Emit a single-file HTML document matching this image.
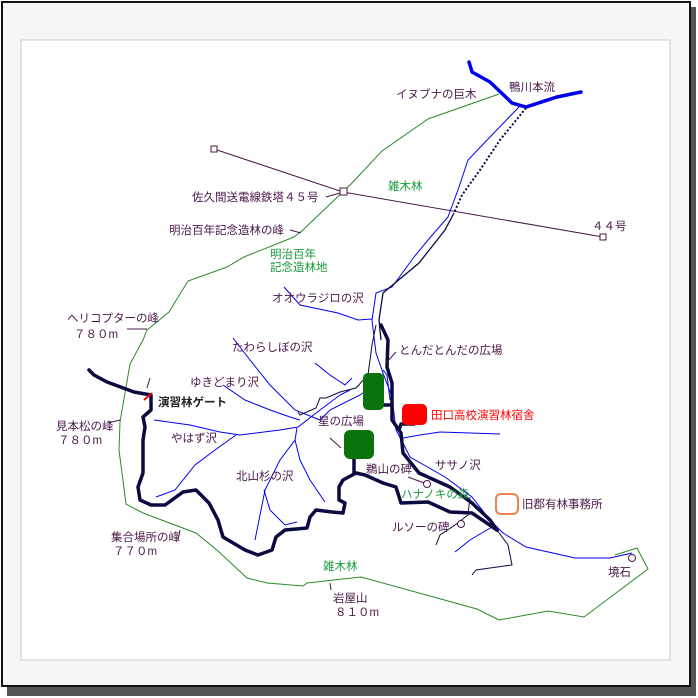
<!DOCTYPE html>
<html><head><meta charset="utf-8"><style>
html,body{margin:0;padding:0;background:#fff;}
svg{display:block;}
text{font-family:"Liberation Sans","Noto Sans CJK JP",sans-serif;font-size:11.5px;fill:#4a1848;}
.g{fill:#1a9a3a;}
</style></head><body>
<svg width="698" height="698" viewBox="0 0 698 698" xmlns="http://www.w3.org/2000/svg">
<rect x="0" y="0" width="698" height="698" fill="#fff"/>
<rect x="7" y="7" width="689" height="689" fill="#555"/>
<rect x="2" y="2" width="688" height="684" fill="#f6f6f6" stroke="#111" stroke-width="2"/>
<rect x="21" y="40" width="649" height="620" fill="#fff" stroke="#ccc" stroke-width="1"/>
<!-- green boundary -->
<polyline fill="none" stroke="#2a8a2a" stroke-width="1" points="499,94 428,119 382,151 352,183 303,230 294,237 244,257 227,267 188,281 169,312 147,330 143,340 130,364 120,422 119,450 126,504 143,513 196,533 218,551 247,578 267,583 303,586 307,583 361,577 477,609 499,620 548,611 584,617 648,569 637,548 615,555"/>
<!-- power line -->
<polyline fill="none" stroke="#4a1848" stroke-width="1" points="214,149 343,192 603,237"/>
<rect x="211" y="146" width="6" height="6" fill="#fff" stroke="#4a1848"/>
<rect x="340" y="188" width="7" height="7" fill="#fff" stroke="#4a1848"/>
<rect x="600" y="234" width="6" height="6" fill="#fff" stroke="#4a1848"/>
<!-- main river -->
<polyline fill="none" stroke="#0000ee" stroke-width="3.5" stroke-linecap="round" points="469,62 472,72 490,82 512,103 526,107 557,97 581,92"/>
<!-- thin blue river -->
<polyline fill="none" stroke="#0000ee" stroke-width="1" points="519,107 490,137 468,160 459,187 448,217 428,240 414,257 392,287 376,293 372,320 376,353 383,373 392,397 396,430 403,443 410,457 445,477 472,497 490,520 503,533 526,547 575,558 610,558 632,553"/>
<!-- tributaries -->
<g fill="none" stroke="#0000ee" stroke-width="1">
<polyline points="284,287 300,305 338,313 358,320 372,319"/>
<polyline points="233,338 250,360 270,385 295,410 320,420 330,410 360,395 375,385"/>
<polyline points="315,363 330,375 345,385 352,378"/>
<polyline points="223,385 245,400 270,410 290,417 300,420"/>
<polyline points="154,420 190,425 220,432 240,435 280,430 298,427 320,410 340,395 350,390"/>
<polyline points="236,435 215,450 195,465 175,490 156,497"/>
<polyline points="297,428 295,440 280,460 265,490 255,540"/>
<polyline points="295,440 300,460 310,480 325,502"/>
<polyline points="264,490 270,510 285,525 297,522"/>
<polyline points="403,438 420,435 440,432 470,433 500,434"/>
<polyline points="492,527 470,540 455,552"/>
<polyline points="383,370 387,375 390,400"/>
</g>
<!-- dashed -->
<polyline fill="none" stroke="#0a0a40" stroke-width="2" stroke-dasharray="2,2" points="526,108 500,140 480,170 462,195 454,213"/>
<polyline fill="none" stroke="#0a0a40" stroke-width="1.3" points="454,213 445,230 419,263 383,293 379,320 381,340"/>
<polyline fill="none" stroke="#0a0a40" stroke-width="1" points="376,325 372,345 368,375 356,388 340,392 326,398 320,398 316,408 300,415 298,412"/>
<polyline fill="none" stroke="#0a0a40" stroke-width="1" points="497,530 508,545 512,565 490,568 476,570 472,575"/>
<polyline fill="none" stroke="#0a0a40" stroke-width="1" points="470,497 468,515 455,525 440,535 436,545"/>
<!-- thick navy -->
<g fill="none" stroke="#0a0a40" stroke-width="3.5" stroke-linejoin="round" stroke-linecap="round">
<polyline points="381,325 388,340 387,367 392,383 392,400 392,420 401,433 403,453 419,473 450,487 472,503 490,520 497,530"/>
<polyline points="383,405 392,405"/>
<polyline points="399,430 401,424 414,424"/>
<polyline points="497,530 472,513 450,512 428,502 401,503 396,487 383,483 365,475 356,473 343,480 339,487 339,500 345,503 343,513 332,512 316,510 310,517 307,528 285,530 276,537 272,550 258,555 245,550 223,537 218,520 209,503 196,490 183,492 165,505 151,505 140,500 138,487 143,473 143,440 145,427 143,417 151,410 151,395 134,392 107,382 94,375 89,370"/>
<polyline points="354,458 354,473"/>
</g>
<!-- buildings -->
<rect x="363" y="373" width="21" height="37" rx="5" fill="#0b730b"/>
<rect x="344" y="430" width="30" height="29" rx="6" fill="#0b730b"/>
<rect x="402" y="404" width="25" height="21" rx="5" fill="#ff0000"/>
<rect x="496" y="494" width="22" height="20" rx="5" fill="#fff" stroke="#f08050" stroke-width="2"/>
<!-- gate mark -->
<line x1="144" y1="400" x2="152" y2="393" stroke="#e00" stroke-width="2"/>
<!-- small markers -->
<circle cx="427" cy="484" r="3.5" fill="#fff" stroke="#4a1848"/>
<circle cx="461" cy="524" r="3.5" fill="#fff" stroke="#4a1848"/>
<circle cx="632" cy="558" r="3.5" fill="#fff" stroke="#4a1848"/>
<!-- leader lines -->
<g stroke="#4a1848" stroke-width="1" fill="none">
<line x1="326" y1="197" x2="340" y2="193"/>
<line x1="290" y1="230" x2="301" y2="233"/>
<line x1="127" y1="329" x2="147" y2="329"/>
<line x1="108" y1="423" x2="120" y2="420"/>
<line x1="178" y1="540" x2="180" y2="530"/>
<line x1="331" y1="590" x2="330" y2="583"/>
<line x1="396" y1="352" x2="386" y2="363"/>
<line x1="330" y1="438" x2="341" y2="448"/>
<line x1="408" y1="477" x2="424" y2="483"/>
<line x1="147" y1="388" x2="150" y2="378"/>
</g>
<!-- labels -->
<text x="396" y="98">イヌブナの巨木</text>
<text x="509" y="91">鴨川本流</text>
<text x="388" y="190" class="g">雑木林</text>
<text x="192" y="201">佐久間送電線鉄塔４５号</text>
<text x="592" y="230">４４号</text>
<text x="169" y="234">明治百年記念造林の峰</text>
<text x="270" y="258" class="g">明治百年</text>
<text x="270" y="271" class="g">記念造林地</text>
<text x="272" y="302">オオウラジロの沢</text>
<text x="67" y="322">ヘリコプターの峰</text>
<text x="74" y="338">７８０m</text>
<text x="232" y="351">たわらしぼの沢</text>
<text x="399" y="354">とんだとんだの広場</text>
<text x="190" y="386">ゆきどまり沢</text>
<text x="158" y="406" style="font-weight:bold;fill:#222">演習林ゲート</text>
<text x="431" y="419" style="fill:#ff0000">田口高校演習林宿舎</text>
<text x="318" y="425">星の広場</text>
<text x="56" y="430">見本松の峰</text>
<text x="58" y="444">７８０m</text>
<text x="171" y="442">やはず沢</text>
<text x="366" y="473">鵜山の碑</text>
<text x="435" y="469">ササノ沢</text>
<text x="236" y="480">北山杉の沢</text>
<text x="401" y="498" class="g">ハナノキの森</text>
<text x="522" y="508">旧郡有林事務所</text>
<text x="392" y="531">ルソーの碑</text>
<text x="111" y="541">集合場所の峰</text>
<text x="113" y="555">７７０m</text>
<text x="323" y="570" class="g">雑木林</text>
<text x="608" y="576">境石</text>
<text x="333" y="602">岩屋山</text>
<text x="335" y="616">８１０m</text>
</svg>
</body></html>
